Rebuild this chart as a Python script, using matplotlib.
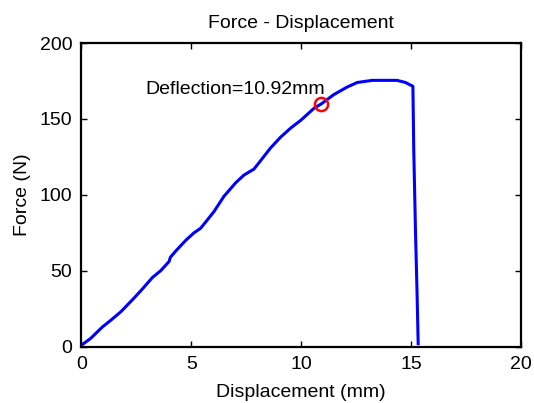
import matplotlib.pyplot as plt

# dados (deslocamento em mm, forca em N)
deslocamento = [0.0, 0.42, 0.95, 1.3, 1.79, 2.39, 2.77, 3.23, 3.6, 3.98, 4.05, 4.29, 4.74, 5.12, 5.42,
                5.7, 6.03, 6.48, 6.6, 7.02, 7.39, 7.85, 8.23, 8.61, 9.06, 9.52, 9.97, 10.58, 10.92,
                11.48, 12.09, 12.55, 13.23, 14.36, 14.74, 15.08, 15.12, 15.2, 15.27, 15.32]
forca = [1, 5.5, 13, 17, 23, 32, 38, 45.6, 50, 56, 59, 63, 70, 75, 78,
         83, 89, 99, 101, 108, 113, 117, 124, 131, 138, 144, 149, 157, 160,
         166, 171, 174, 175.4, 175.4, 174, 171.5, 129, 74.6, 35, 2]

ponto_x = 10.92
ponto_y = 160
texto = 'Deflection=10.92mm'

plt.rcParams['font.family'] = ['Liberation Sans', 'DejaVu Sans']
plt.rcParams['font.size'] = 14

fig = plt.figure(figsize=(5.34, 4.03), dpi=100)
ax = fig.add_axes([0.1526, 0.1397, 0.8231, 0.7536])

ax.plot(deslocamento, forca, color='#0000ff', linewidth=2.2)
ax.plot(ponto_x, ponto_y, 'o', markerfacecolor='none', markeredgecolor='#ff0000',
        markersize=9.5, markeredgewidth=1.8)
ax.text(11.07, 166.7, texto, ha='right', va='baseline')

ax.set_xlim(0, 20)
ax.set_ylim(0, 200)
ax.set_xticks([0, 5, 10, 15, 20])
ax.set_yticks([0, 50, 100, 150, 200])
ax.tick_params(direction='in', top=True, right=True, length=4, width=1, pad=6.5)
for s in ax.spines.values():
    s.set_linewidth(1.6)

ax.set_title('Force - Displacement', fontsize=14, pad=11)
ax.set_xlabel('Displacement (mm)', labelpad=8)
ax.set_ylabel('Force (N)', labelpad=6.5)

fig.savefig('out.png', dpi=100)
